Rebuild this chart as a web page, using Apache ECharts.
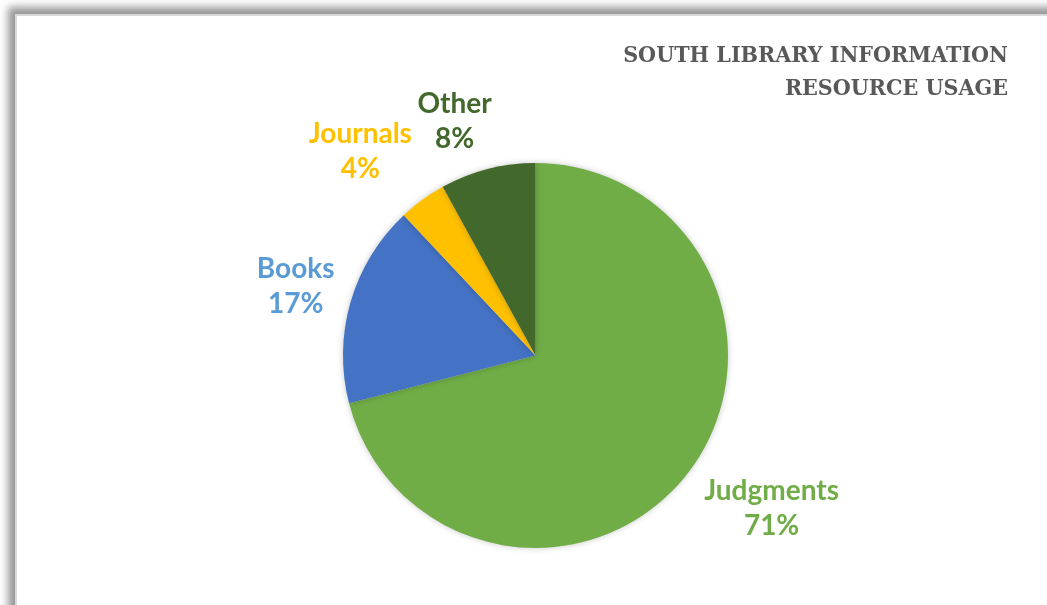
<!DOCTYPE html>
<html>
<head>
<meta charset="utf-8">
<script src="https://cdn.jsdelivr.net/npm/echarts@6/dist/echarts.min.js"></script>
<style>
  html, body { margin: 0; padding: 0; background: #ffffff; overflow: hidden; }
  #frame {
    position: absolute; left: 15px; top: 14px; width: 1100px; height: 700px;
    background: #ffffff; border-left: 2px solid #d9d9d9; border-top: 2px solid #d9d9d9;
    box-shadow: -7px -7px 8px #979797;
  }
  #chart { position: absolute; left: 0; top: 0; width: 1047px; height: 605px; }
</style>
</head>
<body>
<div id="frame"></div>
<div id="chart"></div>
<script>
// Share of information resources used at the South Library (percent)
const categories = ['Judgments', 'Books', 'Journals', 'Other'];
const shares = [71, 17, 4, 8];

const sliceColors = ['#70AD47', '#4472C4', '#FFC000', '#43682B'];
const labelColors = ['#70AD47', '#5B9BD5', '#FFC000', '#43682B'];
// label block offset from the rim point at each slice's middle angle
const labelOffsets = [[84, 35], [-55, -15], [-62, -48], [-33, -48]];

const pieCenter = [535.5, 355.5];
const pieRadius = 192.5;

const total = shares.reduce((a, b) => a + b, 0);
const midAngles = [];
let acc = 0;
shares.forEach(v => { midAngles.push((acc + v / 2) / total * 2 * Math.PI); acc += v; });

const chart = echarts.init(document.getElementById('chart'), null, { renderer: 'canvas' });
chart.setOption({
  backgroundColor: 'transparent',
  animation: false,
  title: {
    text: 'SOUTH LIBRARY INFORMATION\nRESOURCE USAGE',
    left: 1008, top: 40, padding: 0,
    textAlign: 'right',
    textStyle: {
      fontFamily: '"DejaVu Serif Condensed", "DejaVu Serif", serif', fontWeight: 'bold',
      fontSize: 23, lineHeight: 33, color: '#595959'
    }
  },
  series: [{
    type: 'pie',
    center: pieCenter,
    radius: pieRadius,
    startAngle: 90,
    clockwise: true,
    avoidLabelOverlap: false,
    data: categories.map((name, i) => ({
      name, value: shares[i],
      itemStyle: { color: sliceColors[i] },
      label: { color: labelColors[i] }
    })),
    itemStyle: { shadowBlur: 6, shadowColor: 'rgba(0,0,0,0.22)' },
    label: {
      show: true, position: 'outside',
      formatter: p => p.name + '\n' + Math.round(p.percent) + '%',
      fontFamily: 'Lato, "Open Sans", sans-serif', fontWeight: 'bold',
      fontSize: 28, lineHeight: 35, align: 'center'
    },
    labelLine: { show: false },
    labelLayout: params => {
      const i = params.dataIndex;
      const a = midAngles[i];
      const ex = pieCenter[0] + pieRadius * Math.sin(a);
      const ey = pieCenter[1] - pieRadius * Math.cos(a);
      return {
        x: ex + labelOffsets[i][0], y: ey + labelOffsets[i][1],
        align: 'center', verticalAlign: 'middle'
      };
    },
    emphasis: { disabled: true }
  }]
});
</script>
</body>
</html>
